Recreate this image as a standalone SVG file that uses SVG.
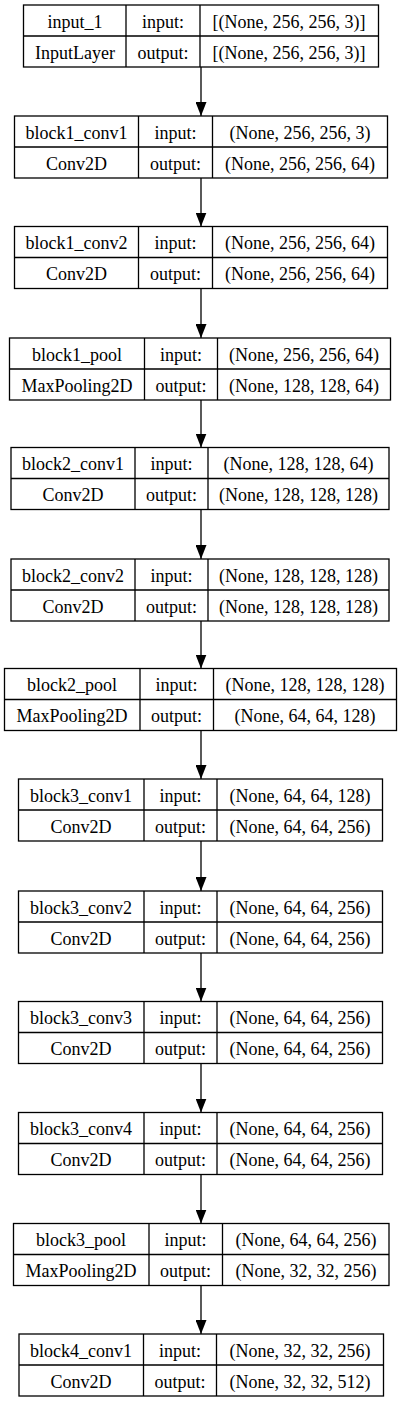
<svg xmlns="http://www.w3.org/2000/svg" width="403" height="1425" viewBox="0 0 403 1425">
<defs>
<style>
.b{fill:#fff;stroke:#000;stroke-width:1.3}
.l{stroke:#000;stroke-width:1.3;fill:none}
text{font-family:"Liberation Serif","Times New Roman",serif;font-size:18px;fill:#000;text-anchor:middle}
.e{stroke:#000;stroke-width:1.3;fill:none;marker-end:url(#ah)}
</style>
<marker id="ah" markerUnits="userSpaceOnUse" viewBox="0 0 14 11" markerWidth="14" markerHeight="11" refX="14" refY="5.5" orient="auto">
<path d="M0,0 L14,5.5 L0,11 z" fill="#000"/>
</marker>
</defs>
<rect width="403" height="1425" fill="#fff"/>
<g id="connectors">
<line class="e" x1="201" y1="67" x2="201" y2="116"/>
<line class="e" x1="201" y1="178" x2="201" y2="226.5"/>
<line class="e" x1="201" y1="288.5" x2="201" y2="338"/>
<line class="e" x1="201" y1="400" x2="201" y2="447.5"/>
<line class="e" x1="201" y1="509.5" x2="201" y2="559"/>
<line class="e" x1="201" y1="621" x2="201" y2="668.5"/>
<line class="e" x1="201" y1="730.5" x2="201" y2="779"/>
<line class="e" x1="201" y1="841" x2="201" y2="891"/>
<line class="e" x1="201" y1="953" x2="201" y2="1001.5"/>
<line class="e" x1="201" y1="1063.5" x2="201" y2="1112.5"/>
<line class="e" x1="201" y1="1174.5" x2="201" y2="1223.5"/>
<line class="e" x1="201" y1="1285.5" x2="201" y2="1334"/>
</g>
<g id="n1">
<rect class="b" x="23.5" y="5" width="355" height="62"/>
<path class="l" d="M23.5,36H378.5M126,5V67M200,5V67"/>
<text x="75" y="27.5">input_1</text><text x="163" y="27.5">input:</text><text x="289" y="27.5">[(None, 256, 256, 3)]</text>
<text x="75" y="58.5">InputLayer</text><text x="163" y="58.5">output:</text><text x="289" y="58.5">[(None, 256, 256, 3)]</text>
</g>
<g id="n2">
<rect class="b" x="14.5" y="116" width="373" height="62"/>
<path class="l" d="M14.5,147H387.5M138.5,116V178M212.5,116V178"/>
<text x="76.5" y="138.5">block1_conv1</text><text x="175.5" y="138.5">input:</text><text x="300" y="138.5">(None, 256, 256, 3)</text>
<text x="76.5" y="169.5">Conv2D</text><text x="175.5" y="169.5">output:</text><text x="300" y="169.5">(None, 256, 256, 64)</text>
</g>
<g id="n3">
<rect class="b" x="14.5" y="226.5" width="373" height="62"/>
<path class="l" d="M14.5,257.5H387.5M138.5,226.5V288.5M212.5,226.5V288.5"/>
<text x="76.5" y="249">block1_conv2</text><text x="175.5" y="249">input:</text><text x="300" y="249">(None, 256, 256, 64)</text>
<text x="76.5" y="280">Conv2D</text><text x="175.5" y="280">output:</text><text x="300" y="280">(None, 256, 256, 64)</text>
</g>
<g id="n4">
<rect class="b" x="9.5" y="338" width="381" height="62"/>
<path class="l" d="M9.5,369H390.5M144.5,338V400M217.5,338V400"/>
<text x="77" y="360.5">block1_pool</text><text x="181" y="360.5">input:</text><text x="304" y="360.5">(None, 256, 256, 64)</text>
<text x="77" y="391.5">MaxPooling2D</text><text x="181" y="391.5">output:</text><text x="304" y="391.5">(None, 128, 128, 64)</text>
</g>
<g id="n5">
<rect class="b" x="11" y="447.5" width="378" height="62"/>
<path class="l" d="M11,478.5H389M135,447.5V509.5M208,447.5V509.5"/>
<text x="73" y="470">block2_conv1</text><text x="171.5" y="470">input:</text><text x="298.5" y="470">(None, 128, 128, 64)</text>
<text x="73" y="501">Conv2D</text><text x="171.5" y="501">output:</text><text x="298.5" y="501">(None, 128, 128, 128)</text>
</g>
<g id="n6">
<rect class="b" x="11" y="559" width="378" height="62"/>
<path class="l" d="M11,590H389M135,559V621M208,559V621"/>
<text x="73" y="581.5">block2_conv2</text><text x="171.5" y="581.5">input:</text><text x="298.5" y="581.5">(None, 128, 128, 128)</text>
<text x="73" y="612.5">Conv2D</text><text x="171.5" y="612.5">output:</text><text x="298.5" y="612.5">(None, 128, 128, 128)</text>
</g>
<g id="n7">
<rect class="b" x="4.5" y="668.5" width="392" height="62"/>
<path class="l" d="M4.5,699.5H396.5M140,668.5V730.5M213.5,668.5V730.5"/>
<text x="72" y="691">block2_pool</text><text x="176.5" y="691">input:</text><text x="305" y="691">(None, 128, 128, 128)</text>
<text x="72" y="722">MaxPooling2D</text><text x="176.5" y="722">output:</text><text x="305" y="722">(None, 64, 64, 128)</text>
</g>
<g id="n8">
<rect class="b" x="18.5" y="779" width="364" height="62"/>
<path class="l" d="M18.5,810H382.5M144,779V841M217,779V841"/>
<text x="81" y="801.5">block3_conv1</text><text x="180.5" y="801.5">input:</text><text x="300" y="801.5">(None, 64, 64, 128)</text>
<text x="81" y="832.5">Conv2D</text><text x="180.5" y="832.5">output:</text><text x="300" y="832.5">(None, 64, 64, 256)</text>
</g>
<g id="n9">
<rect class="b" x="18.5" y="891" width="364" height="62"/>
<path class="l" d="M18.5,922H382.5M144,891V953M217,891V953"/>
<text x="81" y="913.5">block3_conv2</text><text x="180.5" y="913.5">input:</text><text x="300" y="913.5">(None, 64, 64, 256)</text>
<text x="81" y="944.5">Conv2D</text><text x="180.5" y="944.5">output:</text><text x="300" y="944.5">(None, 64, 64, 256)</text>
</g>
<g id="n10">
<rect class="b" x="18.5" y="1001.5" width="364" height="62"/>
<path class="l" d="M18.5,1032.5H382.5M144,1001.5V1063.5M217,1001.5V1063.5"/>
<text x="81" y="1024">block3_conv3</text><text x="180.5" y="1024">input:</text><text x="300" y="1024">(None, 64, 64, 256)</text>
<text x="81" y="1055">Conv2D</text><text x="180.5" y="1055">output:</text><text x="300" y="1055">(None, 64, 64, 256)</text>
</g>
<g id="n11">
<rect class="b" x="18.5" y="1112.5" width="364" height="62"/>
<path class="l" d="M18.5,1143.5H382.5M144,1112.5V1174.5M217,1112.5V1174.5"/>
<text x="81" y="1135">block3_conv4</text><text x="180.5" y="1135">input:</text><text x="300" y="1135">(None, 64, 64, 256)</text>
<text x="81" y="1166">Conv2D</text><text x="180.5" y="1166">output:</text><text x="300" y="1166">(None, 64, 64, 256)</text>
</g>
<g id="n12">
<rect class="b" x="13.5" y="1223.5" width="375.5" height="62"/>
<path class="l" d="M13.5,1254.5H389M149,1223.5V1285.5M222.5,1223.5V1285.5"/>
<text x="81" y="1246">block3_pool</text><text x="185.5" y="1246">input:</text><text x="306" y="1246">(None, 64, 64, 256)</text>
<text x="81" y="1277">MaxPooling2D</text><text x="185.5" y="1277">output:</text><text x="306" y="1277">(None, 32, 32, 256)</text>
</g>
<g id="n13">
<rect class="b" x="19" y="1334" width="364.5" height="62"/>
<path class="l" d="M19,1365H383.5M143.5,1334V1396M216.5,1334V1396"/>
<text x="81" y="1356.5">block4_conv1</text><text x="180" y="1356.5">input:</text><text x="300" y="1356.5">(None, 32, 32, 256)</text>
<text x="81" y="1387.5">Conv2D</text><text x="180" y="1387.5">output:</text><text x="300" y="1387.5">(None, 32, 32, 512)</text>
</g>
</svg>
